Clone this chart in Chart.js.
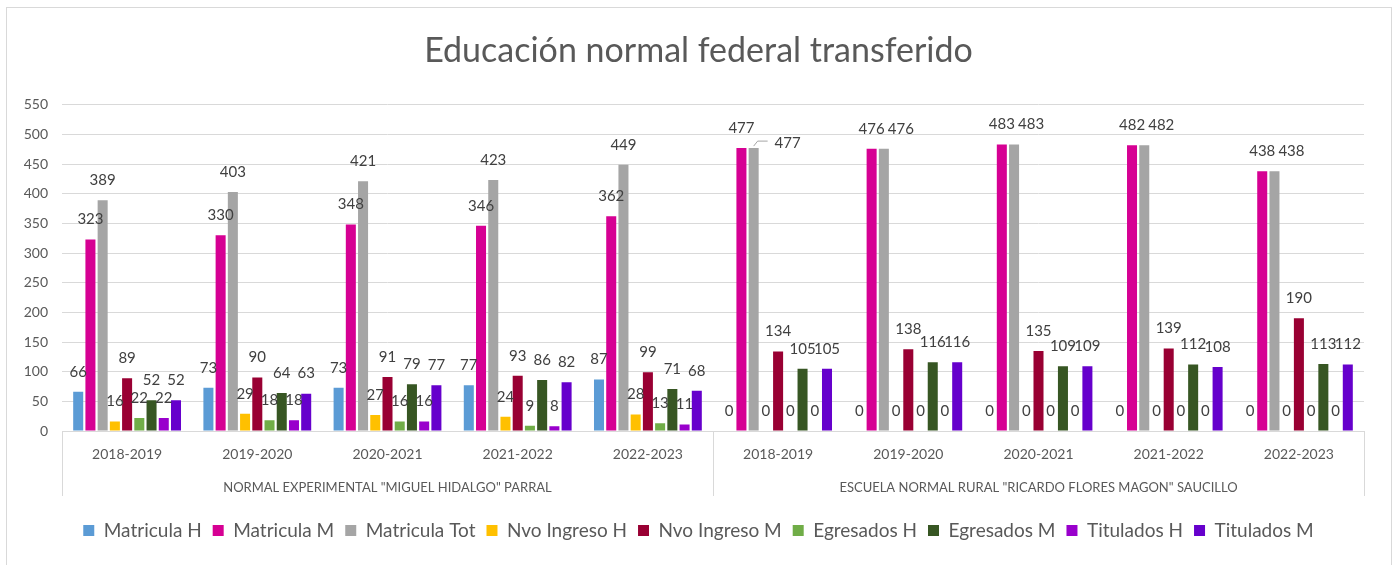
<!DOCTYPE html>
<html>
<head>
<meta charset="utf-8">
<title>Educación normal federal transferido</title>
<script src="https://cdn.jsdelivr.net/npm/chart.js@4.4.1/dist/chart.umd.min.js"></script>
<style>
  html, body { margin: 0; padding: 0; background: #fff; }
  body { width: 1397px; height: 565px; position: relative; overflow: hidden; }
  #frame { position: absolute; left: 6px; top: 7px; width: 1386px; height: 570px; border: 1px solid #d9d9d9; box-sizing: border-box; }
  #myChart { position: absolute; left: 0; top: 0; }
</style>
</head>
<body>
<div id="frame"></div>
<canvas id="myChart" width="1397" height="565"></canvas>
<script>
"use strict";
const years = ["2018-2019", "2019-2020", "2020-2021", "2021-2022", "2022-2023",
  "2018-2019", "2019-2020", "2020-2021", "2021-2022", "2022-2023"];
const schools = ['NORMAL EXPERIMENTAL "MIGUEL HIDALGO" PARRAL', 'ESCUELA NORMAL RURAL "RICARDO FLORES MAGON" SAUCILLO'];
const yTicks = [0, 50, 100, 150, 200, 250, 300, 350, 400, 450, 500, 550];

const matriculaH = [66, 73, 73, 77, 87, 0, 0, 0, 0, 0];
const matriculaM = [323, 330, 348, 346, 362, 477, 476, 483, 482, 438];
const matriculaTot = [389, 403, 421, 423, 449, 477, 476, 483, 482, 438];
const nvoIngresoH = [16, 29, 27, 24, 28, 0, 0, 0, 0, 0];
const nvoIngresoM = [89, 90, 91, 93, 99, 134, 138, 135, 139, 190];
const egresadosH = [22, 18, 16, 9, 13, 0, 0, 0, 0, 0];
const egresadosM = [52, 64, 79, 86, 71, 105, 116, 109, 112, 113];
const tituladosH = [22, 18, 16, 8, 11, 0, 0, 0, 0, 0];
const tituladosM = [52, 63, 77, 82, 68, 105, 116, 109, 108, 112];

const series = [
  { label: "Matricula H", data: matriculaH, color: "#5b9bd5" },
  { label: "Matricula M", data: matriculaM, color: "#d60093" },
  { label: "Matricula Tot", data: matriculaTot, color: "#a5a5a5" },
  { label: "Nvo Ingreso H", data: nvoIngresoH, color: "#ffc000" },
  { label: "Nvo Ingreso M", data: nvoIngresoM, color: "#990033" },
  { label: "Egresados H", data: egresadosH, color: "#70ad47" },
  { label: "Egresados M", data: egresadosM, color: "#375623" },
  { label: "Titulados H", data: tituladosH, color: "#9900cc" },
  { label: "Titulados M", data: tituladosM, color: "#6600cc" },
];

const fontName = "Lato, 'Liberation Sans', sans-serif";
const textGray = "#595959";
const lineGray = "#d9d9d9";

// value labels above every bar; in the second school the "Tot" labels sit
// beside the equal "M" labels (first one with a leader line, as Excel did)
const valueLabels = {
  id: "valueLabels",
  afterDatasetsDraw(chart) {
    const c = chart.ctx;
    c.save();
    c.font = "15px " + fontName;
    c.fillStyle = "#404040";
    c.textAlign = "center";
    c.textBaseline = "middle";
    chart.data.datasets.forEach(function (ds, di) {
      const meta = chart.getDatasetMeta(di);
      meta.data.forEach(function (bar, i) {
        let x = bar.x;
        let y = bar.y - 20;
        if (di === 2 && i === 5) {
          c.strokeStyle = "#a5a5a5";
          c.lineWidth = 1;
          c.beginPath();
          c.moveTo(bar.x, bar.y - 2);
          c.lineTo(bar.x + 4, bar.y - 7);
          c.lineTo(bar.x + 14, bar.y - 7);
          c.stroke();
          x = bar.x + 34;
          y = bar.y - 5;
        } else if (di === 2 && i > 5) {
          x = bar.x + 17;
        }
        c.fillText(String(ds.data[i]), x, y);
      });
    });
    c.restore();
  },
};

// title and legend are centred on the whole canvas, not only right of the y axis
const centreBlocks = {
  id: "centreBlocks",
  afterLayout(chart) {
    [chart.titleBlock, chart.legend].forEach(function (box) {
      if (box) {
        box.left = 33;
        box.right = chart.width - 33;
      }
    });
  },
};

// vertical separators of the two-level category axis
const groupLines = {
  id: "groupLines",
  afterDraw(chart) {
    const x2 = chart.scales.x2;
    const area = chart.chartArea;
    const c = chart.ctx;
    c.save();
    c.strokeStyle = lineGray;
    c.lineWidth = 1;
    [area.left, (area.left + area.right) / 2, area.right].forEach(function (px) {
      const xx = Math.round(px) + 0.5;
      c.beginPath();
      c.moveTo(xx, area.bottom);
      c.lineTo(xx, x2.top + 25);
      c.stroke();
    });
    c.restore();
  },
};

const ctx = document.getElementById("myChart").getContext("2d");
const myChart = new Chart(ctx, {
  type: "bar",
  data: {
    labels: years,
    datasets: series.map(function (s) {
      return {
        label: s.label,
        data: s.data,
        backgroundColor: s.color,
        borderWidth: 0,
        categoryPercentage: 0.845,
        barPercentage: 0.82,
        xAxisID: "x",
      };
    }),
  },
  options: {
    responsive: false,
    animation: false,
    devicePixelRatio: 1,
    layout: { padding: { left: 0, right: 33, top: 0, bottom: 15 } },
    plugins: {
      title: {
        display: true,
        text: "Educación normal federal transferido",
        color: textGray,
        font: { family: fontName, size: 34, weight: "normal", lineHeight: 1.2 },
        padding: { top: 31, bottom: 33 },
      },
      legend: {
        position: "bottom",
        labels: {
          color: textGray,
          font: { family: fontName, size: 19 },
          boxWidth: 11,
          boxHeight: 11,
          padding: 11,
        },
      },
      tooltip: { enabled: false },
    },
    scales: {
      y: {
        min: 0,
        max: 550,
        afterFit: function (scale) { scale.width = 62; },
        afterBuildTicks: function (scale) {
          scale.ticks = yTicks.map(function (v) { return { value: v }; });
        },
        grid: { color: lineGray, drawTicks: false },
        border: { display: false },
        ticks: { color: textGray, font: { family: fontName, size: 14 }, padding: 14 },
      },
      x: {
        afterFit: function (scale) { scale.height = 40; },
        grid: { display: false },
        border: { display: true, color: lineGray },
        ticks: { color: textGray, font: { family: fontName, size: 14 }, padding: 7, maxRotation: 0, autoSkip: false },
      },
      x2: {
        type: "category",
        position: "bottom",
        labels: schools,
        offset: true,
        afterFit: function (scale) { scale.height = 39; },
        grid: { display: false },
        border: { display: false },
        ticks: { color: textGray, font: { family: fontName, size: 13 }, padding: 1, maxRotation: 0, autoSkip: false },
      },
    },
  },
  plugins: [valueLabels, centreBlocks, groupLines],
});
</script>
</body>
</html>
